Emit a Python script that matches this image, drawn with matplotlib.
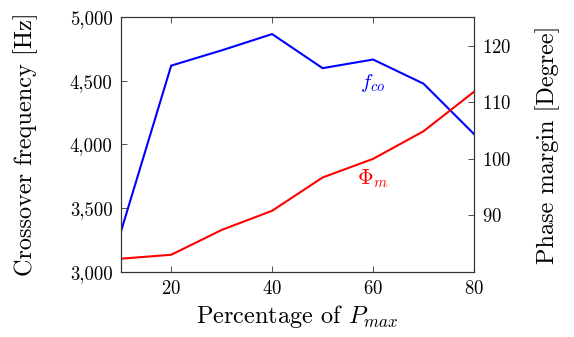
import matplotlib
matplotlib.use("Agg")
import matplotlib.pyplot as plt
from matplotlib.ticker import FuncFormatter

plt.rcParams['font.family'] = 'serif'
plt.rcParams['font.serif'] = ['cmr10', 'DejaVu Serif']
plt.rcParams['mathtext.fontset'] = 'cm'
plt.rcParams['axes.formatter.use_mathtext'] = True

# data
percent = [10, 20, 30, 40, 50, 60, 70, 80]
f_co = [3310, 4620, 4740, 4868, 4600, 4668, 4478, 4082]
phase_margin = [82.3, 83.0, 87.4, 90.8, 96.7, 100.0, 104.9, 111.9]

fig = plt.figure(figsize=(5.74, 3.37), dpi=100)
ax = fig.add_axes([0.2103, 0.1938, 0.6155, 0.7549])
ax2 = ax.twinx()

ax.plot(percent, f_co, color='blue', lw=1.5)
ax2.plot(percent, phase_margin, color='red', lw=1.5)

ax.set_xlim(10, 80)
ax.set_ylim(3000, 5000)
ax2.set_ylim(80, 125.1)
ax.set_xticks([20, 40, 60, 80])
ax.set_yticks([3000, 3500, 4000, 4500, 5000])
ax2.set_yticks([90, 100, 110, 120])
ax.yaxis.set_major_formatter(FuncFormatter(lambda v, p: f"{int(v):,}"))

tick_kw = dict(direction='in', labelsize=13.5, length=4, width=0.6,
               colors='#333333', labelcolor='black')
ax.tick_params(axis='x', top=True, pad=6, **tick_kw)
ax.tick_params(axis='y', pad=6, **tick_kw)
ax2.tick_params(axis='y', pad=6, **tick_kw)

for a in (ax, ax2):
    for s in a.spines.values():
        s.set_linewidth(0.8)
        s.set_color('#333333')

ax.set_xlabel('Percentage of $P_{max}$', fontsize=17.5)
ax.set_ylabel('Crossover frequency [Hz]', fontsize=17.5)
ax2.set_ylabel('Phase margin [Degree]', fontsize=17.5)
ax.xaxis.set_label_coords(0.5, -0.123)
ax.yaxis.set_label_coords(-0.234, 0.5)
ax2.yaxis.set_label_coords(1.173, 0.5)

ax.text(60, 4480, '$f_{co}$', color='blue', fontsize=15, ha='center', va='center')
ax2.text(60, 96.5, r'$\Phi_m$', color='red', fontsize=15.5, ha='center', va='center')

fig.savefig('out.png', dpi=100)
